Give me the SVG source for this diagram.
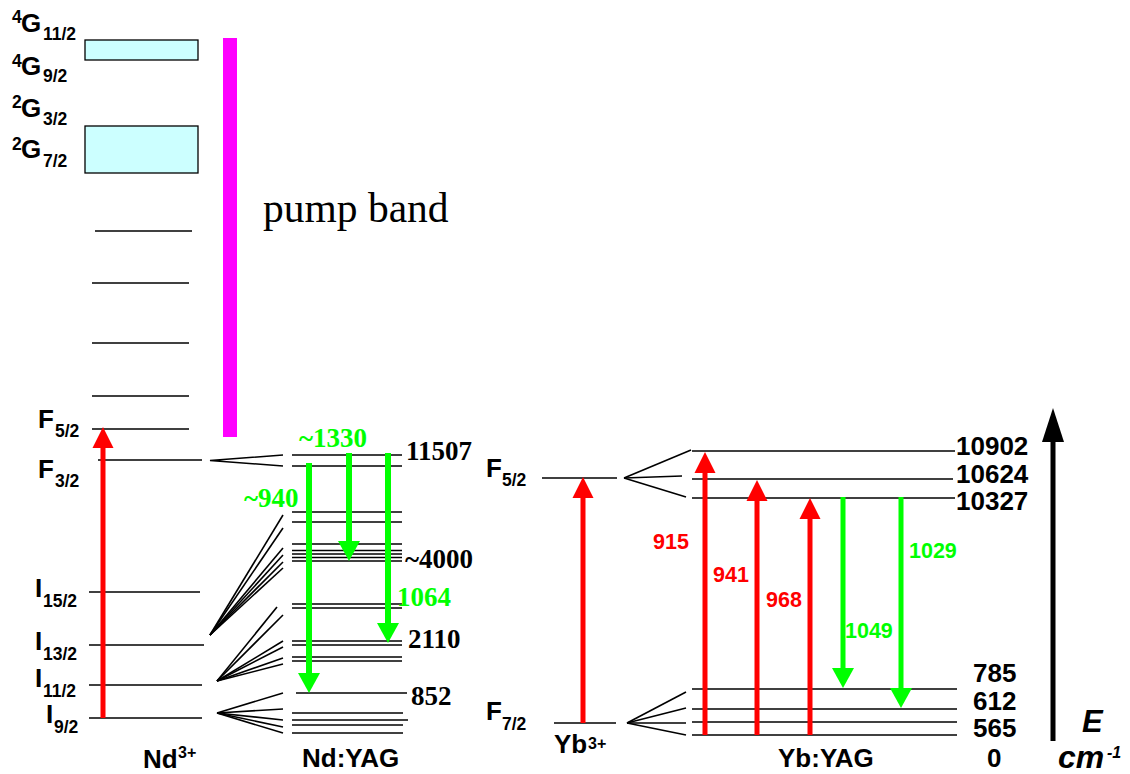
<svg xmlns="http://www.w3.org/2000/svg" width="1130" height="774" viewBox="0 0 1130 774">
<style>
.lv{stroke:#000;stroke-width:1.6;fill:none}
.fan{stroke:#000;stroke-width:1.6;fill:none}
.box{fill:#ccffff;stroke:#000;stroke-width:1.3}
.a{font-family:"Liberation Sans",Arial,sans-serif;font-weight:bold;fill:#000}
.t{font-family:"Liberation Serif","Times New Roman",serif;font-weight:bold;font-size:27px;fill:#000}
.a.r,.t.r{fill:#ff0000}
.a.g,.t.g{fill:#00ff00}
.red{stroke:#ff0000;stroke-width:5;fill:none}
.grn{stroke:#00ff00;stroke-width:5;fill:none}
.grn6{stroke:#00ff00;stroke-width:6;fill:none}
.lbl{font-size:26px}
.sub{font-size:17.5px}
.num{font-size:26px}
.wl{font-size:21.5px}
</style>
<defs>
<marker id="ahr" markerUnits="userSpaceOnUse" viewBox="0 -11 21 22" markerWidth="21" markerHeight="22" refX="0" refY="0" orient="auto"><path d="M0,-10.5 L21,0 L0,10.5 Z" fill="#ff0000"/></marker>
<marker id="ahg" markerUnits="userSpaceOnUse" viewBox="0 -11 20 22" markerWidth="20" markerHeight="22" refX="0" refY="0" orient="auto"><path d="M0,-11 L20,0 L0,11 Z" fill="#00ff00"/></marker>
<marker id="ahk" markerUnits="userSpaceOnUse" viewBox="0 -11 34 22" markerWidth="34" markerHeight="22" refX="0" refY="0" orient="auto"><path d="M0,-11 L34,0 L0,11 Z" fill="#000"/></marker>
</defs>
<rect width="1130" height="774" fill="#fff"/>

<g id="nd-ion">
<rect class="box" x="85" y="40" width="113" height="20"/>
<rect class="box" x="85" y="126" width="113" height="47"/>
<rect x="223" y="38" width="14" height="399" fill="#ff00ff"/>
<line class="lv" x1="95" y1="231" x2="192" y2="231"/>
<line class="lv" x1="92" y1="283" x2="189" y2="283"/>
<line class="lv" x1="92" y1="343" x2="189" y2="343"/>
<line class="lv" x1="92" y1="396" x2="189" y2="396"/>
<line class="lv" x1="92" y1="429" x2="189" y2="429"/>
<line class="lv" x1="98" y1="460" x2="202" y2="460"/>
<line class="lv" x1="89" y1="592" x2="200" y2="592"/>
<line class="lv" x1="89" y1="645" x2="204" y2="645"/>
<line class="lv" x1="89" y1="685" x2="202" y2="685"/>
<line class="lv" x1="89" y1="718" x2="202" y2="718"/>
<text class="a sub" x="12" y="23">4</text><text class="a lbl" x="21" y="32">G</text><text class="a sub" x="43" y="40">11/2</text>
<text class="a sub" x="12" y="67">4</text><text class="a lbl" x="21" y="75">G</text><text class="a sub" x="43" y="82">9/2</text>
<text class="a sub" x="12" y="108">2</text><text class="a lbl" x="21" y="117">G</text><text class="a sub" x="43" y="125">3/2</text>
<text class="a sub" x="12" y="150">2</text><text class="a lbl" x="21" y="158">G</text><text class="a sub" x="43" y="167">7/2</text>
<text x="263" y="222" font-family="'Liberation Serif','Times New Roman',serif" font-size="41.5" fill="#000">pump band</text>
<text class="a lbl" x="38" y="428">F</text><text class="a sub" x="55" y="437">5/2</text>
<text class="a lbl" x="38" y="478">F</text><text class="a sub" x="55" y="487">3/2</text>
<text class="a lbl" x="35" y="597">I</text><text class="a sub" x="43" y="607">15/2</text>
<text class="a lbl" x="35" y="650">I</text><text class="a sub" x="43" y="660">13/2</text>
<text class="a lbl" x="35" y="687">I</text><text class="a sub" x="43" y="697">11/2</text>
<text class="a lbl" x="46" y="723">I</text><text class="a sub" x="54" y="733">9/2</text>
<text class="a lbl" x="143" y="768">Nd</text><text class="a" font-size="16" x="178" y="758">3+</text>
</g>

<g id="nd-yag">
<line class="lv" x1="292" y1="455" x2="402" y2="455"/>
<line class="lv" x1="292" y1="466" x2="402" y2="466"/>
<line class="lv" x1="292" y1="512" x2="402" y2="512"/>
<line class="lv" x1="292" y1="522" x2="402" y2="522"/>
<line class="lv" x1="292" y1="544" x2="402" y2="544"/>
<line class="lv" x1="292" y1="550.5" x2="402" y2="550.5"/>
<line class="lv" x1="292" y1="554" x2="402" y2="554"/>
<line class="lv" x1="292" y1="557.5" x2="402" y2="557.5"/>
<line class="lv" x1="292" y1="561" x2="402" y2="561"/>
<line class="lv" x1="292" y1="604" x2="402" y2="604"/>
<line class="lv" x1="292" y1="608" x2="402" y2="608"/>
<line class="lv" x1="292" y1="641" x2="402" y2="641"/>
<line class="lv" x1="292" y1="645" x2="402" y2="645"/>
<line class="lv" x1="292" y1="657" x2="402" y2="657"/>
<line class="lv" x1="292" y1="661" x2="402" y2="661"/>
<line class="lv" x1="296" y1="693" x2="407" y2="693"/>
<line class="lv" x1="292" y1="713" x2="403" y2="713"/>
<line class="lv" x1="292" y1="720" x2="408" y2="720"/>
<line class="lv" x1="292" y1="725" x2="403" y2="725"/>
<line class="lv" x1="292" y1="733" x2="403" y2="733"/>
<text class="t" x="406" y="460">11507</text>
<text class="t" x="405" y="568">~4000</text>
<text class="t" x="408" y="648">2110</text>
<text class="t" x="411" y="705">852</text>
<text class="t g" x="299" y="447">~1330</text>
<text class="t g" x="244" y="507">~940</text>
<text class="t g" x="397" y="606">1064</text>
<text class="a lbl" x="302" y="767">Nd:YAG</text>
</g>

<g id="yb-ion">
<line class="lv" x1="542" y1="478" x2="617" y2="478"/>
<line class="lv" x1="554" y1="723" x2="616" y2="723"/>
<text class="a lbl" x="486" y="477">F</text><text class="a sub" x="502" y="486">5/2</text>
<text class="a lbl" x="486" y="720">F</text><text class="a sub" x="502" y="730">7/2</text>
<text class="a lbl" x="554" y="753">Yb</text><text class="a" font-size="16" x="588" y="749">3+</text>
<text class="a wl r" x="653" y="549">915</text>
</g>

<g id="yb-yag">
<line class="lv" x1="692" y1="451" x2="955" y2="451"/>
<line class="lv" x1="692" y1="479" x2="953" y2="479"/>
<line class="lv" x1="692" y1="498" x2="955" y2="498"/>
<line class="lv" x1="692" y1="689" x2="957" y2="689"/>
<line class="lv" x1="692" y1="709" x2="957" y2="709"/>
<line class="lv" x1="692" y1="722" x2="957" y2="722"/>
<line class="lv" x1="692" y1="735" x2="957" y2="735"/>
<text class="a num" x="956" y="455">10902</text>
<text class="a num" x="956" y="483">10624</text>
<text class="a num" x="956" y="510">10327</text>
<text class="a num" x="973" y="682">785</text>
<text class="a num" x="973" y="710">612</text>
<text class="a num" x="973" y="737">565</text>
<text class="a num" x="987" y="767">0</text>
<text class="a wl r" x="713" y="582">941</text>
<text class="a wl r" x="766" y="607">968</text>
<text class="a wl g" x="909" y="558">1029</text>
<text class="a wl g" x="845" y="638">1049</text>
<text class="a lbl" x="778" y="767">Yb:YAG</text>
</g>

<g id="axis">
<text class="a" font-style="italic" font-size="31" x="1082" y="732">E</text>
<text class="a" font-style="italic" font-size="32" x="1058" y="768">cm</text><text class="a" font-style="italic" font-size="16" x="1107" y="758">-1</text>
</g>

<g id="connectors">
<polyline class="fan" points="283,455 210,460.5 283,466"/>
<line class="fan" x1="210" y1="635" x2="283" y2="515"/>
<line class="fan" x1="210" y1="635" x2="283" y2="528"/>
<line class="fan" x1="210" y1="635" x2="283" y2="548"/>
<line class="fan" x1="210" y1="635" x2="283" y2="555"/>
<line class="fan" x1="210" y1="635" x2="283" y2="562"/>
<line class="fan" x1="210" y1="635" x2="283" y2="568"/>
<line class="fan" x1="217" y1="681" x2="277" y2="607"/>
<line class="fan" x1="217" y1="681" x2="283" y2="615"/>
<line class="fan" x1="217" y1="681" x2="283" y2="641"/>
<line class="fan" x1="217" y1="681" x2="283" y2="647"/>
<line class="fan" x1="217" y1="681" x2="283" y2="658"/>
<line class="fan" x1="217" y1="681" x2="283" y2="664"/>
<line class="fan" x1="217" y1="713" x2="283" y2="693"/>
<line class="fan" x1="217" y1="713" x2="283" y2="709"/>
<line class="fan" x1="217" y1="713" x2="283" y2="720"/>
<line class="fan" x1="217" y1="713" x2="283" y2="727"/>
<line class="fan" x1="217" y1="713" x2="283" y2="733"/>
<line class="fan" x1="624" y1="478" x2="691" y2="450"/>
<line class="fan" x1="624" y1="478" x2="682" y2="476"/>
<line class="fan" x1="624" y1="478" x2="686" y2="497"/>
<line class="fan" x1="627" y1="723" x2="686" y2="692"/>
<line class="fan" x1="627" y1="723" x2="686" y2="708"/>
<line class="fan" x1="627" y1="723" x2="686" y2="723"/>
<line class="fan" x1="627" y1="723" x2="686" y2="735"/>
<line class="red" x1="103" y1="718" x2="103" y2="448" marker-end="url(#ahr)"/>
<line class="grn6" x1="309" y1="463" x2="309" y2="673" marker-end="url(#ahg)"/>
<line class="grn6" x1="349" y1="453" x2="349" y2="541" marker-end="url(#ahg)"/>
<line class="grn6" x1="388" y1="453" x2="388" y2="623" marker-end="url(#ahg)"/>
<line class="red" x1="583" y1="723" x2="583" y2="498" marker-end="url(#ahr)"/>
<line class="red" x1="705" y1="735" x2="705" y2="473" marker-end="url(#ahr)"/>
<line class="red" x1="757" y1="735" x2="757" y2="501" marker-end="url(#ahr)"/>
<line class="red" x1="810" y1="735" x2="810" y2="519" marker-end="url(#ahr)"/>
<line class="grn" x1="843" y1="497" x2="843" y2="668" marker-end="url(#ahg)"/>
<line class="grn" x1="901" y1="497" x2="901" y2="688" marker-end="url(#ahg)"/>
<line stroke="#000" stroke-width="5" x1="1053" y1="741" x2="1053" y2="442" marker-end="url(#ahk)"/>
</g>
</svg>
